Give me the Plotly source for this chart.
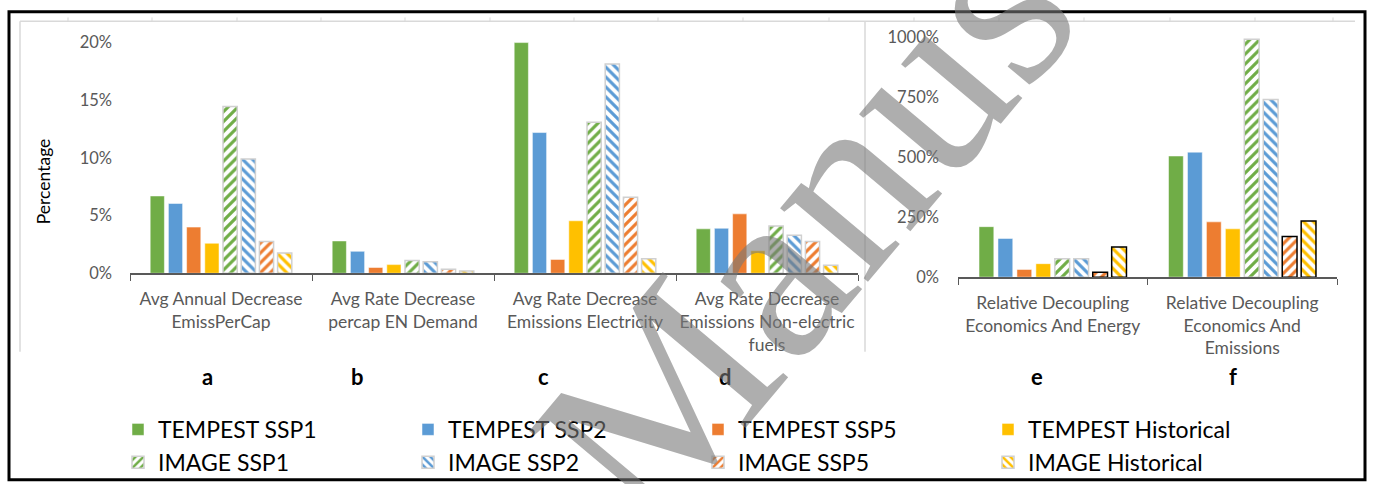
import plotly.graph_objects as go

W, H = 1373, 484

# ---------------- data ----------------
left_categories = ["a", "b", "c", "d"]
left_labels = ["Avg Annual Decrease<br>EmissPerCap",
               "Avg Rate Decrease<br>percap EN Demand",
               "Avg Rate Decrease<br>Emissions Electricity",
               "Avg Rate Decrease<br>Emissions Non-electric<br>fuels"]
right_categories = ["e", "f"]
right_labels = ["Relative Decoupling<br>Economics And Energy",
                "Relative Decoupling<br>Economics And<br>Emissions"]

series_names = ["TEMPEST SSP1", "TEMPEST SSP2", "TEMPEST SSP5", "TEMPEST Historical",
                "IMAGE SSP1", "IMAGE SSP2", "IMAGE SSP5", "IMAGE Historical"]

# values in percent
left_values = {
    "TEMPEST SSP1":       [6.7, 2.8, 20.0, 3.85],
    "TEMPEST SSP2":       [6.05, 1.9, 12.2, 3.9],
    "TEMPEST SSP5":       [4.0, 0.5, 1.2, 5.15],
    "TEMPEST Historical": [2.6, 0.75, 4.55, 1.95],
    "IMAGE SSP1":         [14.45, 1.1, 13.1, 4.1],
    "IMAGE SSP2":         [9.9, 1.0, 18.15, 3.3],
    "IMAGE SSP5":         [2.75, 0.35, 6.6, 2.75],
    "IMAGE Historical":   [1.75, 0.2, 1.25, 0.7],
}
right_values = {
    "TEMPEST SSP1":       [210, 504],
    "TEMPEST SSP2":       [161, 520],
    "TEMPEST SSP5":       [32, 230],
    "TEMPEST Historical": [56, 201],
    "IMAGE SSP1":         [77, 990],
    "IMAGE SSP2":         [77, 739],
    "IMAGE SSP5":         [20, 169],
    "IMAGE Historical":   [125, 234],
}
left_ticks = [0, 5, 10, 15, 20]
right_ticks = [0, 250, 500, 750, 1000]
panel_letters = ["a", "b", "c", "d", "e", "f"]

# ---------------- styles ----------------
colors = {"SSP1": "#70AD47", "SSP2": "#5B9BD5", "SSP5": "#ED7D31", "Historical": "#FFC000"}
shapes_pat = {"SSP1": "/", "SSP2": "\\", "SSP5": "/", "Historical": "\\"}
FONT = "Lato"
GREY = "#595959"


def fx(px):
    return px / W


def fy(py):
    return 1 - py / H


fig = go.Figure()

for side, vals, xa, ya in [("L", left_values, "x", "y"), ("R", right_values, "x2", "y2")]:
    cats = left_categories if side == "L" else right_categories
    for name in series_names:
        model, scen = name.split(" ", 1)
        col = colors[scen]
        if model == "TEMPEST":
            marker = dict(color=col, line=dict(color="rgba(255,255,255,0.5)", width=1))
        else:
            lc = "#d0d0d0"
            if side == "R" and scen in ("SSP5", "Historical"):
                lc = "#000000"
            marker = dict(color="white",
                          pattern=dict(shape=shapes_pat[scen], fgcolor=col, bgcolor="white",
                                       fgopacity=1, size=7, solidity=0.45),
                          line=dict(color=lc, width=1.5))
        fig.add_trace(go.Bar(x=cats, y=vals[name], name=name, marker=marker,
                             xaxis=xa, yaxis=ya, legendgroup=name,
                             showlegend=(side == "L"), hoverinfo="skip"))

axis_common = dict(showgrid=False, zeroline=False, automargin=False)
fig.update_layout(
    width=W, height=H, autosize=False,
    margin=dict(l=0, r=0, t=0, b=0, pad=0),
    paper_bgcolor="white", plot_bgcolor="rgba(0,0,0,0)",
    barmode="group", bargap=0.2, bargroupgap=0.22,
    font=dict(family=FONT, color=GREY),
    xaxis=dict(domain=[fx(130), fx(858)], type="category", anchor="y",
               tickmode="array", tickvals=left_categories, ticktext=left_labels,
               tickangle=0,
               showline=True, linecolor=GREY, linewidth=1.5,
               ticks="outside", tickson="boundaries", ticklen=6, tickcolor=GREY,
               ticklabelstandoff=9,
               tickfont=dict(size=17.5, color=GREY), **axis_common),
    yaxis=dict(domain=[fy(282), fy(38)], range=[0, 20.5], anchor="x",
               tickmode="array", tickvals=left_ticks,
               ticktext=["%g%%" % v for v in left_ticks],
               showline=False, ticks="", ticklabelstandoff=17,
               tickfont=dict(size=16.5, color=GREY), **axis_common),
    xaxis2=dict(domain=[fx(958), fx(1337)], type="category", anchor="y2",
                tickmode="array", tickvals=right_categories, ticktext=right_labels,
                tickangle=0,
                showline=True, linecolor=GREY, linewidth=1.5,
                ticks="outside", tickson="boundaries", ticklen=6, tickcolor=GREY,
                ticklabelstandoff=9,
                tickfont=dict(size=17.5, color=GREY), **axis_common),
    yaxis2=dict(domain=[fy(286), fy(35.5)], range=[0, 1010], anchor="x2",
                tickmode="array", tickvals=right_ticks,
                ticktext=["%g%%" % v for v in right_ticks],
                showline=False, ticks="", ticklabelstandoff=18,
                tickfont=dict(size=16.5, color=GREY), **axis_common),
    legend=dict(orientation="h", x=fx(118), y=fy(421), xanchor="left", yanchor="top",
                entrywidth=245, entrywidthmode="pixels",
                font=dict(size=23, color="black", family=FONT),
                bgcolor="rgba(0,0,0,0)", traceorder="normal"),
)

# y axis title
annotations = [dict(text="Percentage", x=fx(43), y=fy(187), xref="paper", yref="paper",
                    xanchor="center", yanchor="middle",
                    textangle=-90, showarrow=False, font=dict(size=17.5, color="black", family=FONT))]
# panel letters
letter_x = [207, 358, 543, 725, 1037, 1233]
for lt, lx in zip(panel_letters, letter_x):
    annotations.append(dict(text="<b>%s</b>" % lt, x=fx(lx), y=fy(389), xref="paper", yref="paper",
                            xanchor="center", yanchor="middle",
                            showarrow=False, font=dict(size=22, color="black", family=FONT)))
# watermark
annotations.append(dict(text="Manuscript", x=fx(951), y=fy(53), xref="paper", yref="paper",
                        xanchor="center", yanchor="middle",
                        textangle=-50, showarrow=False,
                        font=dict(size=250, color="rgba(120,120,120,0.6)", family="Liberation Serif")))
fig.update_layout(annotations=annotations)

# frame lines
shapes = [
    dict(type="rect", xref="paper", yref="paper", x0=fx(9), x1=fx(1365), y0=fy(12), y1=fy(495),
         line=dict(color="black", width=3)),
    dict(type="line", xref="paper", yref="paper", x0=fx(20), x1=fx(1355), y0=fy(22), y1=fy(22),
         line=dict(color="#d9d9d9", width=1.5)),
    dict(type="line", xref="paper", yref="paper", x0=fx(20), x1=fx(20), y0=fy(22), y1=fy(363),
         line=dict(color="#d9d9d9", width=1.5)),
    dict(type="line", xref="paper", yref="paper", x0=fx(865), x1=fx(865), y0=fy(22), y1=fy(363),
         line=dict(color="#d9d9d9", width=1.5)),
]
for cx in [68, 152, 237, 321, 405, 490, 574, 658, 743, 829, 914, 999, 1084, 1170, 1255, 1333]:
    shapes.append(dict(type="line", xref="paper", yref="paper", x0=fx(cx), x1=fx(cx),
                       y0=fy(18), y1=fy(22), line=dict(color="#d9d9d9", width=1)))
fig.update_layout(shapes=shapes)

fig.write_html("out.html")
